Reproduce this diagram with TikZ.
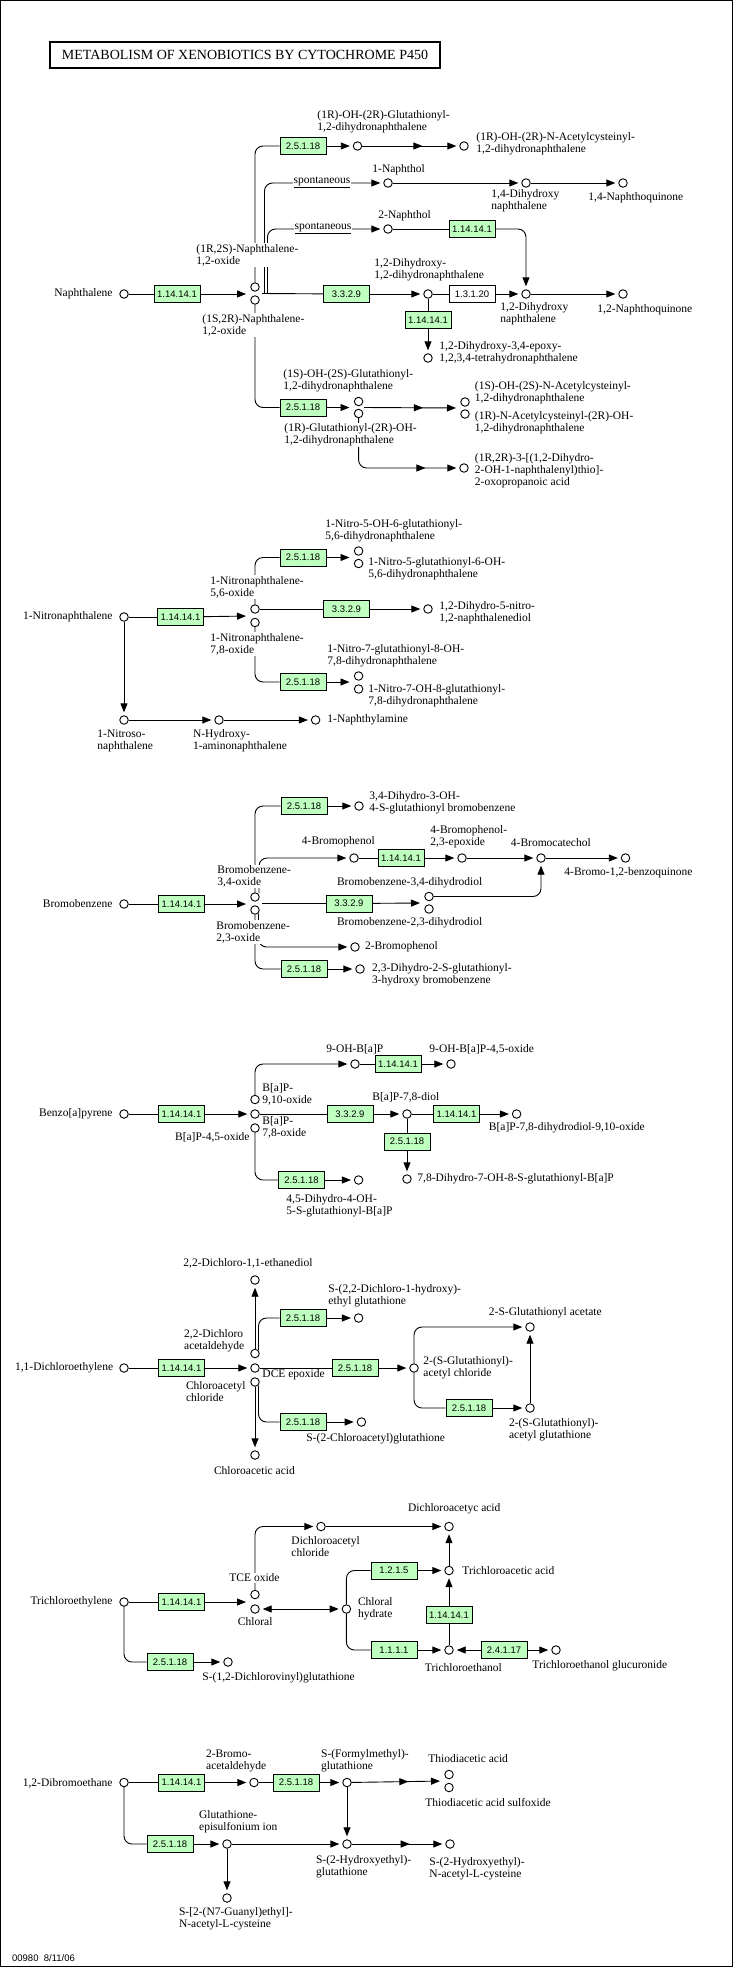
\documentclass[tikz,border=0pt]{standalone}
\usepackage{fontspec}
\setmainfont{Liberation Serif}
\newfontfamily\ecfont{Liberation Sans}
\usetikzlibrary{arrows.meta,decorations.markings}
\definecolor{keggreen}{RGB}{191,255,191}

\tikzset{every picture/.style={line width=0.9pt}}
\tikzset{
  cpd/.style={circle,draw,fill=white,minimum size=8.5pt,inner sep=0pt,line width=0.9pt},
  enz/.style={draw,fill=keggreen,minimum width=46pt,minimum height=17pt,inner sep=0pt,font=\ecfont\fontsize{9.5}{10}\selectfont},
  enzw/.style={enz,fill=white},
  lbl/.style={inner sep=0pt,align=left,font=\fontsize{11.5}{12}\selectfont},
  lblw/.style={lbl,fill=white,inner sep=1pt},
  arr/.style={-{Triangle[length=9pt,width=7pt]},shorten >=3pt},
  dblarr/.style={{Triangle[length=9pt,width=7pt]}-{Triangle[length=9pt,width=7pt]},shorten >=3pt,shorten <=3pt},
  midarr/.style={postaction={decorate},decoration={markings,mark=at position #1 with {\arrow{Triangle[length=9pt,width=7pt]}}}},
  midarr/.default=0.62,
  rc/.style={rounded corners=8pt},
}

\begin{document}
\begin{tikzpicture}[x=1pt,y=1pt,yscale=-1,xscale=1]
\useasboundingbox (0,0) rectangle (733,1967);
%Frame
\draw[line width=1.2pt] (0.6,0.6) rectangle (732.4,1966.4);
% Title
\node[draw,line width=2.5pt,minimum width=390pt,minimum height=26pt,inner sep=0pt,font=\fontsize{14}{14}\selectfont] (title) at (245,55) {METABOLISM OF XENOBIOTICS BY CYTOCHROME P450};

%%%% Naphthalene
\node[cpd] (c0) at (124,294) {};
\node[enz] (e3) at (177,294) {1.14.14.1};
\node[cpd] (c8) at (255,287) {};
\node[cpd] (c9) at (255,300) {};
\coordinate (p1) at (249,294);
\coordinate (j1) at (262,293.5);
\coordinate (j2) at (264.5,293.5);
\coordinate (j3) at (267.5,293.5);
\node[enz] (e1) at (303,146) {2.5.1.18};
\node[cpd] (c1) at (357.5,146) {};
\node[cpd] (c2) at (464,146) {};
\node[cpd] (c3) at (388,183) {};
\node[cpd] (c4) at (526,183) {};
\node[cpd] (c5) at (623,183) {};
\node[cpd] (c6) at (388,229) {};
\node[enz] (e2) at (472,229) {1.14.14.1};
\node[enz] (e4) at (346.5,294) {3.3.2.9};
\node[cpd] (c10) at (428,294) {};
\node[enzw] (e5) at (472,294) {1.3.1.20};
\node[cpd] (c7) at (526,294) {};
\node[cpd] (c11) at (623,294) {};
\node[enz] (e6) at (428,320) {1.14.14.1};
\node[cpd] (c12) at (428,358) {};
\node[enz] (e7) at (303,407.5) {2.5.1.18};
\coordinate (p2) at (352.5,407.5);
\node[cpd] (c13) at (358.6,401.5) {};
\node[cpd] (c14) at (358.6,413.5) {};
\coordinate (j4) at (364,407.5);
\coordinate (p3) at (459,408);
\node[cpd] (c15) at (465,402) {};
\node[cpd] (c16) at (465,414) {};
\node[cpd] (c17) at (464,468) {};

%Straight Lines
\draw (c0) -- (e3);
\draw[arr] (e3) -- (p1);
\draw[arr] (e1) -- (c1);
\draw[arr,midarr] (c1) -- (c2);
\draw[arr] (c3) -- (c4);
\draw[arr] (c4) -- (c5);
\draw (c6) -- (e2);
\draw (j1) -- (e4);
\draw[arr] (e4) -- (c10);
\draw (c10) -- (e5);
\draw[arr] (e5) -- (c7);
\draw[arr] (c7) -- (c11);
\draw (c10) -- (e6);
\draw[arr] (e6) -- (c12);
\draw[arr] (e7) -- (p2);
\draw[arr,midarr] (j4) -- (p3);
%Curve Lines
\draw[rc] (c8) |- (e1);
\draw[arr,rc] (j2) |- (c3);
\draw[arr,rc] (j3) |- (c6);
\draw[arr,rc] (e2) -| (c7);
\draw[rc] (c9) |- (e7);
\draw[arr,midarr=0.77,rc] (c14) |- (c17);

%%%% 1-Nitronaphthalene
\node[cpd] (c18) at (124,617) {};
\node[enz] (e9) at (180.5,617) {1.14.14.1};
\coordinate (p4) at (249,616);
\node[cpd] (c19) at (255,609) {};
\node[cpd] (c22) at (255,622.5) {};
\node[enz] (e8) at (303,557.5) {2.5.1.18};
\coordinate (p5) at (352.5,557.5);
\node[cpd] (c20) at (358.6,551) {};
\node[cpd] (c21) at (358.6,563.5) {};
\node[enz] (e10) at (346.5,609) {3.3.2.9};
\node[cpd] (c23) at (428,609) {};
\node[enz] (e11) at (303,682) {2.5.1.18};
\coordinate (p6) at (352.5,682);
\node[cpd] (c24) at (358.6,676) {};
\node[cpd] (c25) at (358.6,689) {};
\node[cpd] (c26) at (124,720) {};
\node[cpd] (c27) at (219,720) {};
\node[cpd] (c28) at (315.6,720) {};

\draw (c18) -- (e9);
\draw[arr] (e9) -- (p4);
\draw[rc] (c19) |- (e8);
\draw[arr] (e8) -- (p5);
\draw (c19) -- (e10);
\draw[arr] (e10) -- (c23);
\draw[rc] (c22) |- (e11);
\draw[arr] (e11) -- (p6);
\draw[arr] (c18) -- (c26);
\draw[arr] (c26) -- (c27);
\draw[arr] (c27) -- (c28);

%%%% Bromobenzene
\node[cpd] (c35) at (124,904) {};
\node[enz] (e14) at (181.5,904) {1.14.14.1};
\coordinate (p7) at (249,904);
\node[cpd] (c31) at (255,897) {};
\node[cpd] (c36) at (255,910) {};
\node[enz] (e12) at (304,806) {2.5.1.18};
\node[cpd] (c29) at (359,806) {};
\coordinate (b1) at (259,893);
\node[cpd] (c30) at (354,858) {};
\node[enz] (e13) at (401,858) {1.14.14.1};
\node[cpd] (c32) at (462,858) {};
\node[cpd] (c33) at (541,858) {};
\node[cpd] (c34) at (625.5,858) {};
\coordinate (b2) at (262,903.5);
\node[enz] (e15) at (349,903.5) {3.3.2.9};
\coordinate (p8) at (423,903);
\node[cpd] (c37) at (429,896.5) {};
\node[cpd] (c38) at (429,909) {};
\node[enz] (e16) at (304,969) {2.5.1.18};
\node[cpd] (c39) at (360,969) {};
\coordinate (b3) at (258.5,913.5);
\node[cpd] (c40) at (355,947) {};

\draw (c35) -- (e14);
\draw[arr] (e14) -- (p7);
\draw[rc] (c31) |- (e12);
\draw[arr] (e12) -- (c29);
\draw[arr,rc] (b1) |- (c30);
\draw (c30) -- (e13);
\draw[arr] (e13) -- (c32);
\draw[arr] (c32) -- (c33);
\draw[arr] (c33) -- (c34);
\draw (b2) -- (e15);
\draw[arr] (e15) -- (p8);
\draw[arr,rc] (c37) -| (c33);
\draw[rc] (c36) |- (e16);
\draw[arr] (e16) -- (c39);
\draw[arr,rc] (b3) |- (c40);

%%%% Benzo[a]pyrene
\node[cpd] (c44) at (124,1114) {};
\node[enz] (e18) at (181.5,1114) {1.14.14.1};
\node[cpd] (c41) at (255,1099.5) {};
\node[cpd] (c45) at (255,1114) {};
\node[cpd] (c46) at (255,1128) {};
\node[cpd] (c42) at (355,1064) {};
\node[enz] (e17) at (398,1064) {1.14.14.1};
\node[cpd] (c43) at (451,1064) {};
\node[enz] (e19) at (350,1114) {3.3.2.9};
\node[cpd] (c47) at (407,1114) {};
\node[enz] (e20) at (456.5,1114) {1.14.14.1};
\node[cpd] (c48) at (516.6,1114) {};
\node[enz] (e21) at (407,1141.5) {2.5.1.18};
\node[cpd] (c49) at (407,1179) {};
\node[enz] (e22) at (301.5,1180) {2.5.1.18};
\node[cpd] (c50) at (358.6,1180) {};

\draw (c44) -- (e18);
\draw[arr] (e18) -- (c45);
\draw[arr,rc] (c41) |- (c42);
\draw (c42) -- (e17);
\draw[arr] (e17) -- (c43);
\draw (c45) -- (e19);
\draw[arr] (e19) -- (c47);
\draw (c47) -- (e20);
\draw[arr] (e20) -- (c48);
\draw (c47) -- (e21);
\draw[arr] (e21) -- (c49);
\draw[rc] (c46) |- (e22);
\draw[arr] (e22) -- (c50);

%%%% 1,1-Dichloroethylene
\node[cpd] (c55) at (124,1368) {};
\node[enz] (e24) at (181.5,1368) {1.14.14.1};
\node[cpd] (c54) at (255,1353.5) {};
\node[cpd] (c56) at (255,1368) {};
\node[cpd] (c57) at (255,1382) {};
\node[cpd] (c51) at (255,1280) {};
\coordinate (d1) at (258.5,1350);
\node[enz] (e23) at (303,1318) {2.5.1.18};
\node[cpd] (c52) at (358.6,1318) {};
\node[enz] (e25) at (355,1368) {2.5.1.18};
\node[cpd] (c58) at (414,1368) {};
\node[cpd] (c53) at (530,1327) {};
\node[enz] (e26) at (469,1408) {2.5.1.18};
\node[cpd] (c59) at (530,1408) {};
\node[cpd] (c60) at (255,1455) {};
\coordinate (d2) at (258.5,1385.5);
\node[enz] (e27) at (303,1422) {2.5.1.18};
\node[cpd] (c61) at (361.4,1422) {};

\draw (c55) -- (e24);
\draw[arr] (e24) -- (c56);
\draw[arr] (c54) -- (c51);
\draw[rc] (d1) |- (e23);
\draw[arr] (e23) -- (c52);
\draw (c56) -- (e25);
\draw[arr] (e25) -- (c58);
\draw[arr,rc] (c58) |- (c53);
\draw[rc] (c58) |- (e26);
\draw[arr] (e26) -- (c59);
\draw[arr] (c59) -- (c53);
\draw[arr] (c57) -- (c60);
\draw[rc] (d2) |- (e27);
\draw[arr] (e27) -- (c61);

%%%% Trichloroethylene
\node[cpd] (c65) at (124,1602) {};
\node[enz] (e28) at (181.5,1602) {1.14.14.1};
\coordinate (p9) at (249,1602);
\node[cpd] (c63) at (255,1594.5) {};
\node[cpd] (c66) at (255,1609) {};
\node[cpd] (c64) at (321,1526.5) {};
\node[cpd] (c62) at (449,1526.5) {};
\node[cpd] (c67) at (346.4,1609) {};
\node[enz] (e29) at (394,1570.5) {1.2.1.5};
\node[cpd] (c68) at (449,1570.5) {};
\node[enz] (e30) at (394,1650) {1.1.1.1};
\node[cpd] (c69) at (449,1650) {};
\node[enz] (e31) at (449,1615) {1.14.14.1};
\node[enz] (e32) at (504,1650) {2.4.1.17};
\node[cpd] (c70) at (556,1650) {};
\node[enz] (e33) at (170,1662) {2.5.1.18};
\node[cpd] (c71) at (228,1662) {};

\draw (c65) -- (e28);
\draw[arr] (e28) -- (p9);
\draw[arr,rc] (c63) |- (c64);
\draw[arr] (c64) -- (c62);
\draw[dblarr] (c66) -- (c67);
\draw[rc] (c67) |- (e29);
\draw[arr] (e29) -- (c68);
\draw[arr] (c68) -- (c62);
\draw[rc] (c67) |- (e30);
\draw[arr] (e30) -- (c69);
\draw (c69) -- (e31);
\draw[arr] (e31) -- (c68);
\draw[arr] (e32) -- (c69);
\draw[arr] (e32) -- (c70);
\draw[rc] (c65) |- (e33);
\draw[arr] (e33) -- (c71);

%%%% 1,2-Dibromoethane
\node[cpd] (c72) at (124,1782.5) {};
\node[enz] (e34) at (181.5,1782.5) {1.14.14.1};
\node[cpd] (c73) at (254,1782.5) {};
\node[enz] (e35) at (296,1782.5) {2.5.1.18};
\node[cpd] (c74) at (347,1782.5) {};
\coordinate (p10) at (443,1781);
\node[cpd] (c75) at (449,1774.5) {};
\node[cpd] (c76) at (449,1787.5) {};
\node[enz] (e36) at (170,1844) {2.5.1.18};
\node[cpd] (c77) at (227,1844) {};
\node[cpd] (c78) at (347,1844) {};
\node[cpd] (c79) at (450,1844) {};
\node[cpd] (c80) at (227,1898) {};

\draw (c72) -- (e34);
\draw[arr] (e34) -- (c73);
\draw (c73) -- (e35);
\draw[arr] (e35) -- (c74);
\draw[arr,midarr] (c74) -- (p10);
\draw[rc] (c72) |- (e36);
\draw[arr] (e36) -- (c77);
\draw[arr] (c77) -- (c78);
\draw[arr] (c74) -- (c78);
\draw[arr,midarr] (c78) -- (c79);
\draw[arr] (c77) -- (c80);

% Text Node
\node[lblw] (sp1) at (322,182) {\underline{spontaneous}};
\node[lblw] (sp2) at (323,228) {\underline{spontaneous}};
\node[lbl,anchor=east] (t1) at (113,294) {Naphthalene};
\node[lbl,anchor=west] (t2) at (317,122) {(1R)-OH-(2R)-Glutathionyl-\\1,2-dihydronaphthalene};
\node[lbl,anchor=west] (t3) at (476,144) {(1R)-OH-(2R)-N-Acetylcysteinyl-\\1,2-dihydronaphthalene};
\node[lbl,anchor=west] (t4) at (372,170) {1-Naphthol};
\node[lbl,anchor=west] (t5) at (491,201) {1,4-Dihydroxy\\naphthalene};
\node[lbl,anchor=west] (t6) at (588,198) {1,4-Naphthoquinone};
\node[lbl,anchor=west] (t7) at (378,216) {2-Naphthol};
\node[lblw,anchor=west] (t8) at (195,255) {(1R,2S)-Naphthalene-\\1,2-oxide};
\node[lbl,anchor=west] (t9) at (374,270) {1,2-Dihydroxy-\\1,2-dihydronaphthalene};
\node[lbl,anchor=west] (t10) at (500,314) {1,2-Dihydroxy\\naphthalene};
\node[lbl,anchor=west] (t11) at (597,310) {1,2-Naphthoquinone};
\node[lblw,anchor=west] (t12) at (201,325) {(1S,2R)-Naphthalene-\\1,2-oxide};
\node[lbl,anchor=west] (t13) at (439,352.5) {1,2-Dihydroxy-3,4-epoxy-\\1,2,3,4-tetrahydronaphthalene};
\node[lbl,anchor=west] (t14) at (283,380.5) {(1S)-OH-(2S)-Glutathionyl-\\1,2-dihydronaphthalene};
\node[lbl,anchor=west] (t15) at (474.5,393) {(1S)-OH-(2S)-N-Acetylcysteinyl-\\1,2-dihydronaphthalene};
\node[lbl,anchor=west] (t16) at (474.5,423) {(1R)-N-Acetylcysteinyl-(2R)-OH-\\1,2-dihydronaphthalene};
\node[lblw,anchor=west] (t17) at (283,435) {(1R)-Glutathionyl-(2R)-OH-\\1,2-dihydronaphthalene};
\node[lbl,anchor=west] (t18) at (474.5,470.5) {(1R,2R)-3-[(1,2-Dihydro-\\2-OH-1-naphthalenyl)thio]-\\2-oxopropanoic acid};

\node[lbl,anchor=west] (t19) at (325,530.5) {1-Nitro-5-OH-6-glutathionyl-\\5,6-dihydronaphthalene};
\node[lbl,anchor=west] (t20) at (368,569) {1-Nitro-5-glutathionyl-6-OH-\\5,6-dihydronaphthalene};
\node[lblw,anchor=west] (t21) at (209,587) {1-Nitronaphthalene-\\5,6-oxide};
\node[lbl,anchor=east] (t22) at (113,617) {1-Nitronaphthalene};
\node[lbl,anchor=west] (t23) at (439,613) {1,2-Dihydro-5-nitro-\\1,2-naphthalenediol};
\node[lblw,anchor=west] (t24) at (209,644) {1-Nitronaphthalene-\\7,8-oxide};
\node[lbl,anchor=west] (t25) at (327,656) {1-Nitro-7-glutathionyl-8-OH-\\7,8-dihydronaphthalene};
\node[lbl,anchor=west] (t26) at (368,695.5) {1-Nitro-7-OH-8-glutathionyl-\\7,8-dihydronaphthalene};
\node[lbl,anchor=west] (t27) at (327,720) {1-Naphthylamine};
\node[lbl,anchor=west] (t28) at (97,741) {1-Nitroso-\\naphthalene};
\node[lbl,anchor=west] (t29) at (192.6,741) {N-Hydroxy-\\1-aminonaphthalene};

\node[lbl,anchor=west] (t30) at (369,803) {3,4-Dihydro-3-OH-\\4-S-glutathionyl bromobenzene};
\node[lbl,anchor=west] (t31) at (301.5,842) {4-Bromophenol};
\node[lbl,anchor=west] (t32) at (430,836.5) {4-Bromophenol-\\2,3-epoxide};
\node[lbl,anchor=west] (t33) at (510.5,843) {4-Bromocatechol};
\node[lbl,anchor=west] (t34) at (564,873) {4-Bromo-1,2-benzoquinone};
\node[lblw,anchor=west] (t35) at (216,876.5) {Bromobenzene-\\3,4-oxide};
\node[lbl,anchor=west] (t36) at (336.6,883) {Bromobenzene-3,4-dihydrodiol};
\node[lbl,anchor=east] (t37) at (113,904) {Bromobenzene};
\node[lbl,anchor=west] (t38) at (336.6,923) {Bromobenzene-2,3-dihydrodiol};
\node[lblw,anchor=west] (t39) at (215,932) {Bromobenzene-\\2,3-oxide};
\node[lbl,anchor=west] (t40) at (364.6,947) {2-Bromophenol};
\node[lbl,anchor=west] (t41) at (371.7,975) {2,3-Dihydro-2-S-glutathionyl-\\3-hydroxy bromobenzene};

\node[lbl,anchor=west] (t42) at (326,1049) {9-OH-B[a]P};
\node[lbl,anchor=west] (t43) at (429,1049) {9-OH-B[a]P-4,5-oxide};
\node[lbl,anchor=west] (t44) at (262,1094) {B[a]P-\\9,10-oxide};
\node[lbl,anchor=west] (t45) at (372,1097) {B[a]P-7,8-diol};
\node[lbl,anchor=east] (t46) at (113,1114) {Benzo[a]pyrene};
\node[lbl,anchor=west] (t47) at (262,1127.5) {B[a]P-\\7,8-oxide};
\node[lbl,anchor=east] (t48) at (250,1137) {B[a]P-4,5-oxide};
\node[lbl,anchor=west] (t49) at (488.5,1128) {B[a]P-7,8-dihydrodiol-9,10-oxide};
\node[lbl,anchor=west] (t50) at (417,1179) {7,8-Dihydro-7-OH-8-S-glutathionyl-B[a]P};
\node[lbl,anchor=west] (t51) at (286,1205.5) {4,5-Dihydro-4-OH-\\5-S-glutathionyl-B[a]P};

\node[lbl,anchor=west] (t52) at (183,1263) {2,2-Dichloro-1,1-ethanediol};
\node[lbl,anchor=west] (t53) at (328,1296) {S-(2,2-Dichloro-1-hydroxy)-\\ethyl glutathione};
\node[lbl,anchor=west] (t54) at (488.5,1313) {2-S-Glutathionyl acetate};
\node[lbl,anchor=west] (t55) at (183.7,1341) {2,2-Dichloro\\acetaldehyde};
\node[lbl,anchor=east] (t56) at (113.6,1368) {1,1-Dichloroethylene};
\node[lbl,anchor=west] (t57) at (262,1375) {DCE epoxide};
\node[lbl,anchor=west] (t58) at (185.6,1391.5) {Chloroacetyl\\chloride};
\node[lbl,anchor=west] (t59) at (423,1367.5) {2-(S-Glutathionyl)-\\acetyl chloride};
\node[lbl,anchor=west] (t60) at (508.6,1430) {2-(S-Glutathionyl)-\\acetyl glutathione};
\node[lbl,anchor=west] (t61) at (306,1439) {S-(2-Chloroacetyl)glutathione};
\node[lbl,anchor=west] (t62) at (213.6,1471) {Chloroacetic acid};

\node[lbl,anchor=west] (t63) at (407.7,1509) {Dichloroacetyc acid};
\node[lbl,anchor=west] (t64) at (291,1547) {Dichloroacetyl\\chloride};
\node[lbl,anchor=west] (t65) at (462,1571) {Trichloroacetic acid};
\node[lblw,anchor=west] (t66) at (228,1578) {TCE oxide};
\node[lbl,anchor=east] (t67) at (113,1602) {Trichloroethylene};
\node[lbl,anchor=west] (t68) at (357.6,1609) {Chloral\\hydrate};
\node[lbl,anchor=west] (t69) at (237.5,1622) {Chloral};
\node[lbl,anchor=west] (t70) at (424.5,1668) {Trichloroethanol};
\node[lbl,anchor=west] (t71) at (532,1666) {Trichloroethanol glucuronide};
\node[lbl,anchor=west] (t72) at (202,1678) {S-(1,2-Dichlorovinyl)glutathione};

\node[lbl,anchor=west] (t73) at (205.7,1761) {2-Bromo-\\acetaldehyde};
\node[lbl,anchor=west] (t74) at (320.7,1761) {S-(Formylmethyl)-\\glutathione};
\node[lbl,anchor=west] (t75) at (428,1759) {Thiodiacetic acid};
\node[lbl,anchor=east] (t76) at (113,1783) {1,2-Dibromoethane};
\node[lbl,anchor=west] (t77) at (425,1802) {Thiodiacetic acid sulfoxide};
\node[lbl,anchor=west] (t78) at (198.7,1822) {Glutathione-\\episulfonium ion};
\node[lbl,anchor=west] (t79) at (315.6,1866.5) {S-(2-Hydroxyethyl)-\\glutathione};
\node[lbl,anchor=west] (t80) at (429,1868.5) {S-(2-Hydroxyethyl)-\\N-acetyl-L-cysteine};
\node[lbl,anchor=west] (t81) at (178.6,1918.5) {S-[2-(N7-Guanyl)ethyl]-\\N-acetyl-L-cysteine};

% Footer
\node[anchor=west,inner sep=0pt,font=\ecfont\fontsize{9.5}{10}\selectfont] (ft) at (11.7,1958) {00980\ \ 8/11/06};

\end{tikzpicture}
\end{document}
